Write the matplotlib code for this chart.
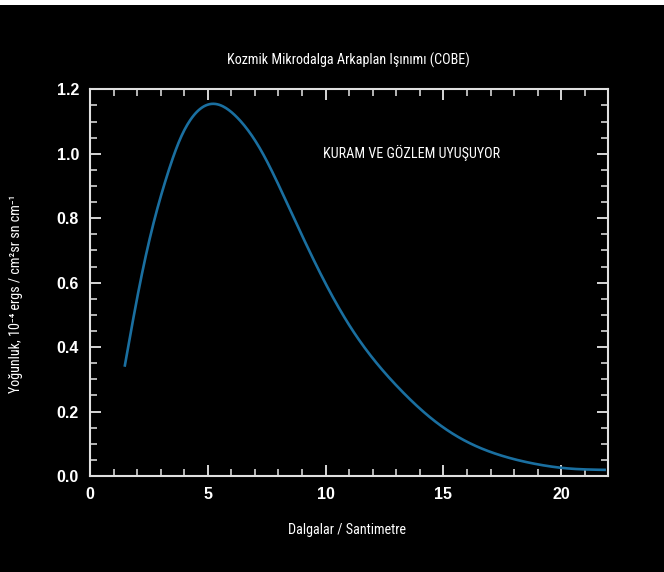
import numpy as np
import matplotlib
matplotlib.use("Agg")
import matplotlib.pyplot as plt
from matplotlib.patches import Rectangle
from matplotlib import font_manager

# values (waves per cm, intensity)
dalga = [1.47, 2.11, 2.68, 3.24, 3.81, 4.37, 5.22, 6.2, 7.2, 8.33, 9.77, 11.04,
         12.17, 13.16, 14.57, 15.98, 17.39, 18.8, 20.2, 21.9]
yogunluk = [0.339, 0.593, 0.780, 0.925, 1.043, 1.116, 1.155, 1.116, 1.018, 0.852, 0.63, 0.464,
            0.35, 0.269, 0.174, 0.107, 0.065, 0.039, 0.024, 0.019]

x_ticks = [0, 5, 10, 15, 20]
y_ticks = [0.0, 0.2, 0.4, 0.6, 0.8, 1.0, 1.2]

baslik = "Kozmik Mikrodalga Arkaplan Işınımı (COBE)"
not_metni = "KURAM VE GÖZLEM UYUŞUYOR"
x_etiket = "Dalgalar / Santimetre"
y_etiket = "Yoğunluk, 10⁻⁴ ergs / cm²sr sn cm⁻¹"


def dogal_spline(x, y, xs):
    # natural cubic spline through the read points, only for a smooth line
    x = np.asarray(x, float)
    y = np.asarray(y, float)
    n = len(x)
    h = np.diff(x)
    A = np.zeros((n, n))
    b = np.zeros(n)
    A[0, 0] = A[-1, -1] = 1
    for i in range(1, n - 1):
        A[i, i - 1] = h[i - 1]
        A[i, i] = 2 * (h[i - 1] + h[i])
        A[i, i + 1] = h[i]
        b[i] = 3 * ((y[i + 1] - y[i]) / h[i] - (y[i] - y[i - 1]) / h[i - 1])
    c = np.linalg.solve(A, b)
    idx = np.clip(np.searchsorted(x, xs) - 1, 0, n - 2)
    dx = xs - x[idx]
    hi = h[idx]
    bb = (y[idx + 1] - y[idx]) / hi - hi * (2 * c[idx] + c[idx + 1]) / 3
    d = (c[idx + 1] - c[idx]) / (3 * hi)
    return y[idx] + bb * dx + c[idx] * dx ** 2 + d * dx ** 3


xs = np.linspace(dalga[0], dalga[-1], 500)
ys = dogal_spline(dalga, yogunluk, xs)

isimler = {f.name for f in font_manager.fontManager.ttflist}
if "Roboto Condensed" in isimler:
    yazi = dict(color="white", fontsize=10.2, family=["Roboto Condensed", "DejaVu Sans"])
else:
    yazi = dict(color="white", fontsize=9.5, family=["DejaVu Sans"], stretch="condensed")

fig = plt.figure(figsize=(6.64, 5.72), dpi=100, facecolor="black")
fig.patches.append(Rectangle((0, 1 - 5 / 572), 1, 5 / 572, transform=fig.transFigure,
                             facecolor="white", edgecolor="none"))
ax = fig.add_axes([90 / 664, 96 / 572, 518.3 / 664, 386.7 / 572])
ax.set_facecolor("black")

ax.plot(xs, ys, color="#1a6fa0", lw=1.9, solid_capstyle="butt")

ax.set_xlim(0, 22)
ax.set_ylim(0, 1.2)
ax.set_xticks(x_ticks)
ax.set_yticks(y_ticks)
ax.set_yticklabels([f"{v:.1f}" for v in y_ticks])
ax.set_xticks(np.arange(0, 22.01, 1), minor=True)
ax.set_yticks(np.arange(0, 1.201, 0.05), minor=True)

ax.tick_params(which="both", direction="in", top=True, right=True, colors="#e8e8e8")
ax.tick_params(which="major", length=8, width=1.3, pad=8)
ax.tick_params(which="minor", length=5, width=1.1)
for lbl in ax.get_xticklabels() + ax.get_yticklabels():
    lbl.set_fontfamily("Liberation Sans")
    lbl.set_fontweight("bold")
    lbl.set_fontsize(11.5)
    lbl.set_color("white")
for s in ax.spines.values():
    s.set_color("#e0e0e0")
    s.set_linewidth(1.5)

fig.text(348 / 664, 1 - 60 / 572, baslik, ha="center", va="center", **yazi)
fig.text(347 / 664, 1 - 530 / 572, x_etiket, ha="center", va="center", **yazi)
fig.text(16 / 664, 1 - 294 / 572, y_etiket, ha="center", va="center", rotation=90, **yazi)
fig.text(323 / 664, 1 - 153 / 572, not_metni, ha="left", va="center", **yazi)

fig.savefig("out.png", dpi=100, facecolor="black")
